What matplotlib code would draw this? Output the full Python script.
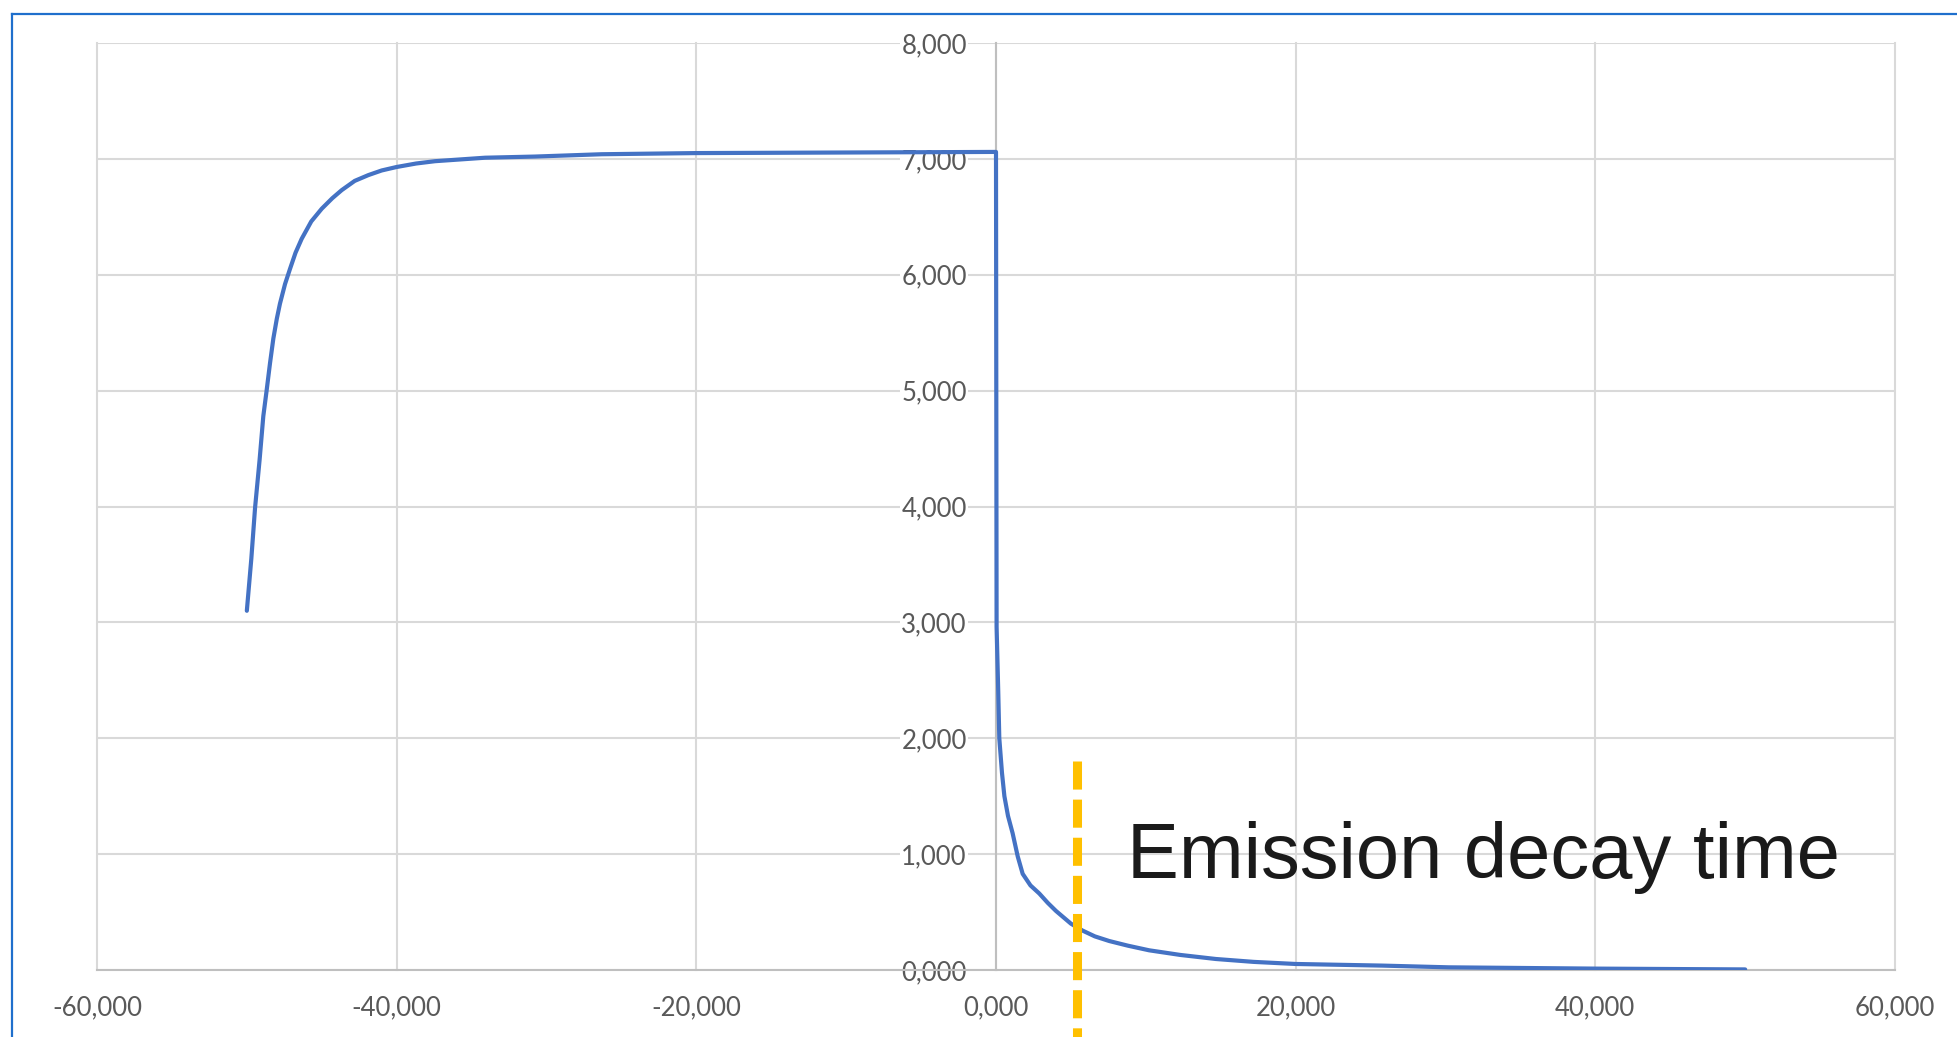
import matplotlib.pyplot as plt
from matplotlib.lines import Line2D
from matplotlib.ticker import FuncFormatter, MultipleLocator

# emission trace: rise while pumping, plateau, then decay after switch-off
t_rise = [-50.0, -49.7, -49.45, -49.15, -48.9, -48.68, -48.45, -48.23, -48.0, -47.79,
          -47.45, -47.12, -46.75, -46.34, -45.7, -45.0, -44.3, -43.67, -42.8, -41.89,
          -41.0, -40.0, -38.7, -37.44, -34.1, -30.77, -26.32, -20.0, -10.0, 0.0]
i_rise = [3.10, 3.55, 3.99, 4.40, 4.78, 5.00, 5.24, 5.45, 5.62, 5.75,
          5.92, 6.05, 6.19, 6.31, 6.46, 6.57, 6.66, 6.73, 6.81, 6.86,
          6.90, 6.93, 6.96, 6.98, 7.01, 7.02, 7.04, 7.05, 7.055, 7.06]
t_decay = [0.02, 0.04, 0.15, 0.22, 0.4, 0.56, 0.8, 1.11, 1.45, 1.78, 2.3, 2.89,
           3.45, 4.0, 5.0, 5.78, 6.6, 7.56, 8.8, 10.22, 12.3, 14.67, 17.2, 20.0,
           25.78, 30.22, 40.0, 50.0]
i_decay = [5.0, 2.96, 2.40, 2.0, 1.70, 1.50, 1.33, 1.18, 0.98, 0.83, 0.73, 0.66,
           0.58, 0.51, 0.40, 0.34, 0.29, 0.25, 0.21, 0.17, 0.13, 0.095, 0.07, 0.052,
           0.038, 0.023, 0.012, 0.005]

decay_time = 5.4
marker_top = 1.8
label = "Emission decay time"

W, H = 1957, 1037
fig = plt.figure(figsize=(W / 100, H / 100), dpi=100)
ax = fig.add_axes([97 / W, 67 / H, (1895 - 97) / W, (970 - 43) / H])

ax.set_xlim(-60, 60)
ax.set_ylim(0, 8)
ax.xaxis.set_major_locator(MultipleLocator(20))
ax.yaxis.set_major_locator(MultipleLocator(1))
fmt = FuncFormatter(lambda v, p: f"{v:.3f}".replace(".", ","))
ax.xaxis.set_major_formatter(fmt)
ax.yaxis.set_major_formatter(fmt)

ax.grid(True, color="#D9D9D9", linewidth=1.5)
for gl in ax.get_xgridlines() + ax.get_ygridlines():
    gl.set_clip_on(False)

for s in ["top", "right"]:
    ax.spines[s].set_visible(False)
ax.spines["left"].set_position(("data", 0))
ax.spines["left"].set_color("#BFBFBF")
ax.spines["left"].set_linewidth(1.5)
ax.spines["bottom"].set_color("#BFBFBF")
ax.spines["bottom"].set_linewidth(1.5)

ax.tick_params(axis="both", length=0, labelsize=18.5, labelcolor="#595959")
ax.tick_params(axis="y", pad=21)
ax.tick_params(axis="x", pad=18)
for lab in ax.get_xticklabels() + ax.get_yticklabels():
    lab.set_fontfamily("Lato")
for lab in ax.get_yticklabels():
    lab.set_bbox(dict(facecolor="white", edgecolor="none", pad=1))

t = t_rise + t_decay
i = i_rise + i_decay
ax.plot(t, i, color="#4472C4", linewidth=3.0, solid_joinstyle="round",
        solid_capstyle="round", zorder=4)

ln, = ax.plot([decay_time, decay_time], [marker_top, -0.7], color="#FFC000",
              linewidth=6.5, clip_on=False, zorder=5, solid_capstyle="butt")
ln.set_dashes((28 / 9, 10 / 9))
ln.set_dash_capstyle("butt")

ax.text(8.74, 0.794, label, fontsize=56, family="Liberation Sans",
        color="#1A1A1A", ha="left", va="baseline", zorder=6)

# outer frame, only left and top edges fall inside the picture
fig.add_artist(Line2D([12 / W, 12 / W], [1.0 - 14 / H, -0.05], color="#1F6FCC",
                      linewidth=1.6, transform=fig.transFigure))
fig.add_artist(Line2D([12 / W, 1.05], [1.0 - 14 / H, 1.0 - 14 / H], color="#1F6FCC",
                      linewidth=1.6, transform=fig.transFigure))

fig.savefig("out.png", dpi=100, facecolor="white")
